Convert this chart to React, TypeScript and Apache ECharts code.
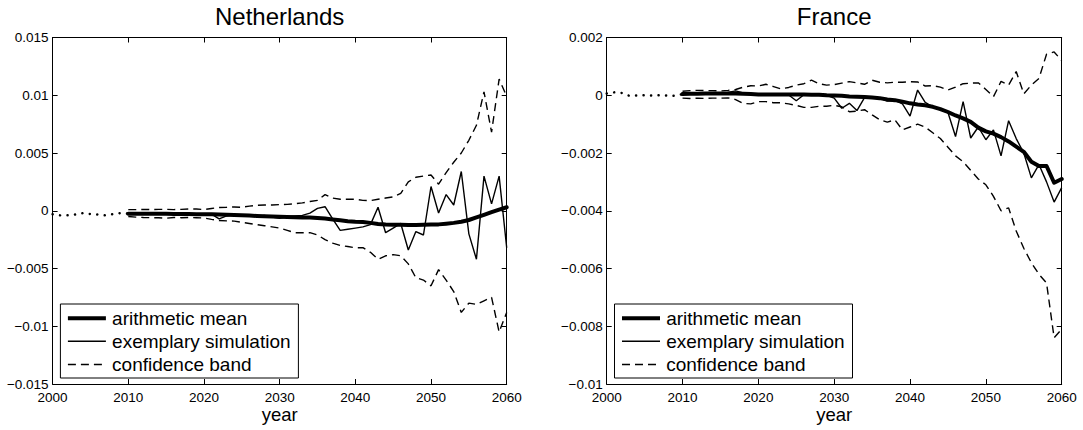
import React, { useEffect, useRef } from "react";
import * as echarts from "echarts";

const FONT = '"Liberation Sans", Arial, Helvetica, sans-serif';

// Observed period (dotted) and projection period
const HIST_YEARS = [2000, 2001, 2002, 2003, 2004, 2005, 2006, 2007, 2008, 2009, 2010];
const PROJ_YEARS = [
  2010, 2011, 2012, 2013, 2014, 2015, 2016, 2017, 2018, 2019,
  2020, 2021, 2022, 2023, 2024, 2025, 2026, 2027, 2028, 2029,
  2030, 2031, 2032, 2033, 2034, 2035, 2036, 2037, 2038, 2039,
  2040, 2041, 2042, 2043, 2044, 2045, 2046, 2047, 2048, 2049,
  2050, 2051, 2052, 2053, 2054, 2055, 2056, 2057, 2058, 2059, 2060,
];

// Netherlands
const NL_HIST = [-0.0003, -0.0004, -0.0004, -0.00033, -0.0002, -0.00028, -0.00033, -0.0004, -0.00028, -0.0002, -0.00025];
const NL_MEAN = [
  -0.00025, -0.00025, -0.00026, -0.00026, -0.00027, -0.00027, -0.00028, -0.00028, -0.00029, -0.0003,
  -0.0003, -0.00031, -0.00033, -0.00035, -0.00037, -0.0004, -0.00042, -0.00045, -0.00047, -0.0005,
  -0.00053, -0.00055, -0.00057, -0.00058, -0.00058, -0.00062, -0.00068, -0.00076, -0.00083, -0.0009,
  -0.00095, -0.00098, -0.00105, -0.00115, -0.0012, -0.00121, -0.00122, -0.00123, -0.00123, -0.00122,
  -0.0012, -0.00118, -0.00112, -0.00105, -0.00095, -0.0008, -0.00058, -0.00035, -0.00012, 0.0001, 0.0003,
];
const NL_SIM = [
  -0.0002, -0.00025, -0.0003, -0.00022, -0.00028, -0.0003, -0.00025, -0.0003, -0.00028, -0.0003,
  -0.00027, -0.0003, -0.0007, -0.00045, -0.0003, -0.00045, -0.0004, -0.0005, -0.0004, -0.00055,
  -0.00065, -0.0005, -0.00045, -0.0004, -0.0002, 0.0002, 0.00035, -0.0007, -0.0017, -0.0016,
  -0.0015, -0.0014, -0.0012, 0.0003, -0.0019, -0.0015, -0.0011, -0.0034, -0.0018, -0.0021,
  0.0021, -0.0002, 0.0014, 0.0005, 0.0034, -0.002, -0.0042, 0.003, 0.0006, 0.003, -0.0032,
];
const NL_UPPER = [
  0.0001, 0.0001, 0.00012, 0.0001, 0.00012, 0.00012, 0.0001, 0.00012, 0.00015, 0.00015,
  0.0001, 0.0002, 0.00028, 0.0003, 0.00033, 0.0003, 0.0004, 0.00048, 0.0005, 0.0005,
  0.00053, 0.00055, 0.0006, 0.00068, 0.0008, 0.0009, 0.0014, 0.0011, 0.001, 0.001,
  0.001, 0.0009, 0.00088, 0.001, 0.0011, 0.0012, 0.0015, 0.0025, 0.0029, 0.003,
  0.0031, 0.0023, 0.0033, 0.0042, 0.005, 0.0061, 0.0074, 0.0103, 0.0068, 0.0114, 0.0099,
];
const NL_LOWER = [
  -0.0005, -0.00055, -0.00058, -0.0006, -0.0006, -0.00065, -0.00058, -0.0006, -0.00058, -0.0006,
  -0.00062, -0.00075, -0.00085, -0.00088, -0.0009, -0.001, -0.0011, -0.0012, -0.0013, -0.0014,
  -0.0015, -0.0017, -0.0019, -0.0019, -0.0019, -0.0021, -0.0025, -0.0028, -0.003, -0.0031,
  -0.0032, -0.0032, -0.0036, -0.0042, -0.0039, -0.0038, -0.0039, -0.0046, -0.0058, -0.006,
  -0.0065, -0.0051, -0.006, -0.007, -0.0088, -0.008, -0.0081, -0.0078, -0.0075, -0.0105, -0.0088,
];

// France
const FR_HIST = [0.00006, 0.0001, 0.00008, -0.00002, -0.00001, 0.0, -0.00001, 0.0, -0.00001, -0.00002, 0.00004];
const FR_MEAN = [
  0.00004, 0.00005, 0.00005, 0.00006, 0.00006, 0.00006, 0.00006, 0.00006, 0.00005, 0.00004,
  0.00003, 0.00003, 0.00003, 0.00003, 0.00003, 0.00003, 0.00003, 0.00002, 0.00002, 0.0,
  -0.00001, -0.00002, -0.00004, -0.00005, -0.00006, -0.00008, -0.0001, -0.00015, -0.00017, -0.00022,
  -0.00028, -0.00032, -0.00035, -0.0004, -0.00048, -0.00058, -0.0007, -0.0008, -0.00092, -0.00112,
  -0.00125, -0.00133, -0.00145, -0.0016, -0.00178, -0.00196, -0.0023, -0.00245, -0.00245, -0.00303, -0.0029,
];
const FR_SIM = [
  0.00004, 0.00005, 0.00004, 0.00006, 0.00005, 0.00004, 0.0001, 0.00015, 0.00008, 0.00005,
  0.00003, 0.00004, 0.00002, 0.00003, 0.00001, -0.00019, 0.00002, 0.00003, 0.00001, 0.0,
  -0.0001, -0.00045, -0.00028, -0.00053, -0.00008, -0.00006, -0.0001, -0.0002, -0.00018, -0.0003,
  -0.00072, 0.00018, -0.00025, -0.0004, -0.0005, -0.0006, -0.00143, -0.00022, -0.00148, -0.0011,
  -0.00154, -0.0012, -0.0021, -0.00088, -0.0015, -0.002, -0.00286, -0.0024, -0.003, -0.0037, -0.0032,
];
const FR_UPPER = [
  0.00014, 0.00016, 0.00017, 0.00016, 0.00016, 0.00015, 0.00017, 0.0002, 0.00028, 0.00033,
  0.00032, 0.00038, 0.0003, 0.00022, 0.00027, 0.00035, 0.0004, 0.00052, 0.0004, 0.00035,
  0.00037, 0.00042, 0.00047, 0.00043, 0.00038, 0.00052, 0.00045, 0.00043, 0.00045, 0.00045,
  0.00047, 0.00046, 0.00032, 0.00033, 0.00028, 0.00018, 0.00028, 0.0004, 0.00042, 0.00043,
  0.0002, -0.00005, 0.00048, 0.00035, 0.00082, 0.00005, 0.00035, 0.00058, 0.00142, 0.0015, 0.0012,
];
const FR_LOWER = [
  -0.0001, -0.00011, -0.0001, -0.00011, -0.0001, -0.0001, -0.00009, -0.00015, -0.00028, -0.0003,
  -0.00022, -0.00022, -0.00026, -0.00026, -0.0003, -0.00035, -0.00042, -0.00042, -0.00038, -0.00038,
  -0.00035, -0.0004, -0.00057, -0.00055, -0.0005, -0.00068, -0.00085, -0.00093, -0.00085, -0.0012,
  -0.0011, -0.001, -0.0011, -0.0013, -0.0015, -0.0018, -0.0021, -0.0023, -0.0026, -0.0029,
  -0.0031, -0.0035, -0.004, -0.0039, -0.0047, -0.0053, -0.0058, -0.0062, -0.0065, -0.0084, -0.0081,
];

const LEGEND_LABELS = ["arithmetic mean", "exemplary simulation", "confidence band"];

const PANELS = [
  {
    title: "Netherlands",
    yMin: -0.015, yMax: 0.015, yStep: 0.005,
    hist: NL_HIST, mean: NL_MEAN, sim: NL_SIM, upper: NL_UPPER, lower: NL_LOWER,
    box: { left: 52.6, top: 37.5, width: 454.1, height: 346.5 },
  },
  {
    title: "France",
    yMin: -0.01, yMax: 0.002, yStep: 0.002,
    hist: FR_HIST, mean: FR_MEAN, sim: FR_SIM, upper: FR_UPPER, lower: FR_LOWER,
    box: { left: 606.7, top: 37.5, width: 455, height: 346.5 },
  },
];

const DASH = [8, 5];
const INK = "#000";

const pairs = (xs: number[], ys: number[]) => xs.map((x, i) => [x, ys[i]]);
const fmtY = (v: number) => String(Number(v.toFixed(4))).replace("-", "\u2212");

function buildOption() {
  const grid: any[] = [];
  const xAxis: any[] = [];
  const yAxis: any[] = [];
  const series: any[] = [];
  const graphic: any[] = [];

  PANELS.forEach((p, i) => {
    grid.push({ ...p.box, containLabel: false });

    const tick = { show: true, inside: true, length: 5, lineStyle: { color: INK, width: 1 } };
    const line = { show: true, onZero: false, lineStyle: { color: INK, width: 1 } };
    const xBase = {
      gridIndex: i, type: "value", min: 2000, max: 2060, interval: 10,
      axisLine: line, axisTick: tick, splitLine: { show: false },
    };
    xAxis.push({
      ...xBase, position: "bottom",
      axisLabel: { color: INK, fontSize: 13.5, fontFamily: FONT, margin: 6, formatter: (v: number) => String(v) },
    });
    xAxis.push({ ...xBase, position: "top", axisLabel: { show: false } });

    const yBase = {
      gridIndex: i, type: "value", min: p.yMin, max: p.yMax, interval: p.yStep,
      axisLine: line, axisTick: tick, splitLine: { show: false },
    };
    yAxis.push({
      ...yBase, position: "left",
      axisLabel: { color: INK, fontSize: 13.5, fontFamily: FONT, margin: 4, formatter: fmtY },
    });
    yAxis.push({ ...yBase, position: "right", axisLabel: { show: false } });

    const xi = i * 2;
    const yi = i * 2;
    const common = { type: "line", xAxisIndex: xi, yAxisIndex: yi, showSymbol: false, symbol: "none", silent: true };

    series.push({
      ...common, name: "history", data: pairs(HIST_YEARS, p.hist),
      lineStyle: { color: INK, width: 2.5, type: [0.1, 7.4], cap: "round" },
    });
    series.push({
      ...common, name: LEGEND_LABELS[2], data: pairs(PROJ_YEARS, p.upper),
      lineStyle: { color: INK, width: 1.4, type: DASH },
    });
    series.push({
      ...common, name: LEGEND_LABELS[2], data: pairs(PROJ_YEARS, p.lower),
      lineStyle: { color: INK, width: 1.4, type: DASH },
    });
    series.push({
      ...common, name: LEGEND_LABELS[0], data: pairs(PROJ_YEARS, p.mean),
      lineStyle: { color: INK, width: 4, join: "round", cap: "round" },
    });
    series.push({
      ...common, name: LEGEND_LABELS[1], data: pairs(PROJ_YEARS, p.sim),
      lineStyle: { color: INK, width: 1.4 },
    });

    const L = p.box.left;
    const cx = L + p.box.width / 2;

    graphic.push({
      type: "text", x: cx, y: 16,
      style: { text: p.title, fill: INK, fontSize: 24, fontFamily: FONT, align: "center", verticalAlign: "middle" },
    });
    graphic.push({
      type: "text", x: cx, y: 414.5,
      style: { text: "year", fill: INK, fontSize: 18.5, fontFamily: FONT, align: "center", verticalAlign: "middle" },
    });

    // legend box
    const rows = [318.3, 341.2, 364.5];
    const children: any[] = [
      {
        type: "rect", shape: { x: L + 7.8, y: 304, width: 238, height: 74 },
        style: { fill: "#fff", stroke: INK, lineWidth: 1 },
      },
    ];
    const styles = [
      { stroke: INK, lineWidth: 4 },
      { stroke: INK, lineWidth: 1.4 },
      { stroke: INK, lineWidth: 1.4, lineDash: DASH },
    ];
    rows.forEach((ry, k) => {
      children.push({
        type: "line", shape: { x1: L + 15.3, y1: ry, x2: L + 53.3, y2: ry },
        style: styles[k],
      });
      children.push({
        type: "text", x: L + 59.5, y: ry,
        style: { text: LEGEND_LABELS[k], fill: INK, fontSize: 19, fontFamily: FONT, align: "left", verticalAlign: "middle" },
      });
    });
    graphic.push({ type: "group", z: 100, children });
  });

  return { animation: false, backgroundColor: "#fff", grid, xAxis, yAxis, series, graphic };
}

export default function App() {
  const ref = useRef<HTMLDivElement>(null);

  useEffect(() => {
    if (!ref.current) return;
    const chart = echarts.init(ref.current, undefined, { renderer: "svg" });
    chart.setOption(buildOption() as any);
    return () => chart.dispose();
  }, []);

  return (
    <div
      ref={ref}
      style={{ position: "fixed", left: 0, top: 0, width: 1083, height: 430, background: "#fff" }}
    />
  );
}
